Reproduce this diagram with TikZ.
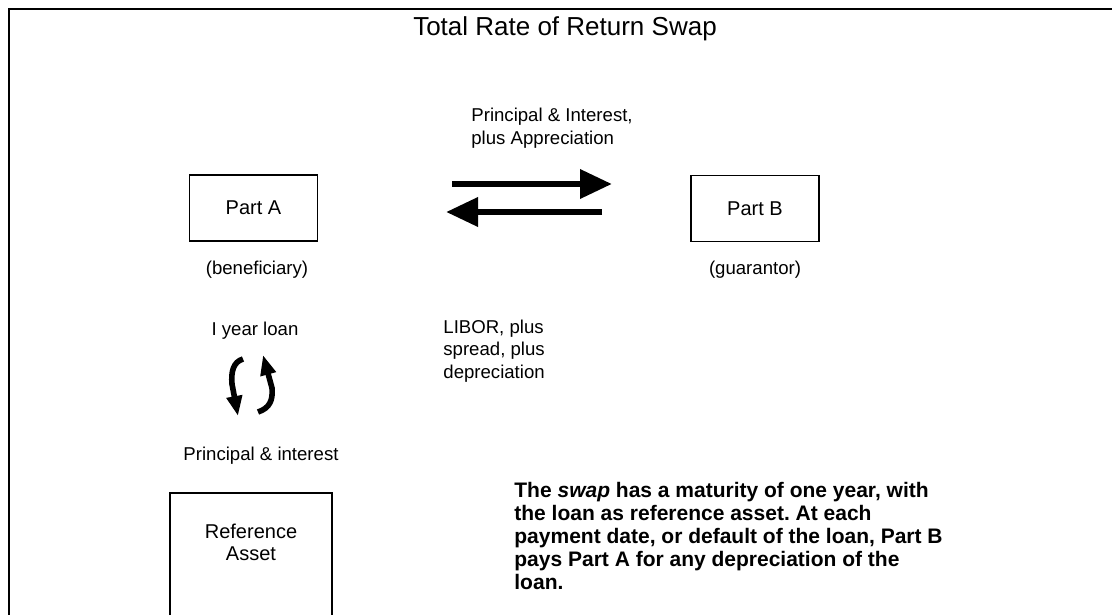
\documentclass[tikz,border=0pt]{standalone}
\usepackage{fontspec}
\setmainfont{Liberation Sans}
\usetikzlibrary{arrows.meta,positioning}
\frenchspacing

\begin{document}
\begin{tikzpicture}[x=0.5pt,y=-0.5pt,
  party/.style={draw,line width=0.8pt,minimum width=64pt,minimum height=33pt,font=\fontsize{10}{12}\selectfont},
  lbl/.style={inner sep=0pt,font=\fontsize{9.3}{11.2}\selectfont},
  bigarrow/.style={line width=3.3pt,-{Triangle[length=16pt,width=14pt]}},
  hookarrow/.style={line width=2.8pt,-{Triangle[length=10pt,width=7.5pt]}}]
  \useasboundingbox (0,0) rectangle (1112,615);

  % frame, open on the right and at the bottom
  \draw[line width=0.8pt] (1112,9) -- (9,9) -- (9,615);

  \node[font=\fontsize{13}{15}\selectfont] (title) at (565,29) {Total Rate of Return Swap};

  \node[party] (A) at (253.5,208) {Part A};
  \node[party] (B) at (755,208.5) {Part B};
  \node[lbl] (ben) at (257,270) {(beneficiary)};
  \node[lbl] (gua) at (755,270) {(guarantor)};

  % swap flows
  \node[lbl,align=left,anchor=west] (pay) at (471,128) {Principal \& Interest,\\plus Appreciation};
  \node[lbl,align=left,anchor=west] (libor) at (443,351) {LIBOR, plus\\spread, plus\\depreciation};
  \coordinate (r0) at (452,184);
  \coordinate (r1) at (612,184);
  \coordinate (l0) at (602,212);
  \coordinate (l1) at (446,212);
  \draw[bigarrow] (r0) -- (r1);
  \draw[bigarrow] (l0) -- (l1);

  % loan and reference asset
  \node[lbl] (loan) at (255,331) {I year loan};
  \coordinate (h0) at (243,359);
  \coordinate (h1) at (232,384);
  \coordinate (h2) at (238,416);
  \coordinate (k0) at (258,412);
  \coordinate (k1) at (272,388);
  \coordinate (k2) at (263,355);
  \draw[hookarrow] (h0) .. controls (233,362) and (231,372) .. (h1) -- (h2);
  \draw[hookarrow] (k0) .. controls (270,408) and (273,400) .. (k1) -- (k2);
  \node[lbl] (pi) at (261,456) {Principal \& interest};

  \draw[line width=0.8pt] (170,615) -- (170,493) -- (332,493) -- (332,615);
  \node[align=center,inner sep=0pt,font=\fontsize{10}{11}\selectfont] (asset) at (251,542) {Reference\\Asset};

  \node[align=left,anchor=west,inner sep=0pt,font=\bfseries\fontsize{10.5}{11.6}\selectfont] (note) at (514,536)
    {The \textit{swap} has a maturity of one year, with\\
     the loan as reference asset. At each\\
     payment date, or default of the loan, Part B\\
     pays Part A for any depreciation of the\\
     loan.};
\end{tikzpicture}
\end{document}
